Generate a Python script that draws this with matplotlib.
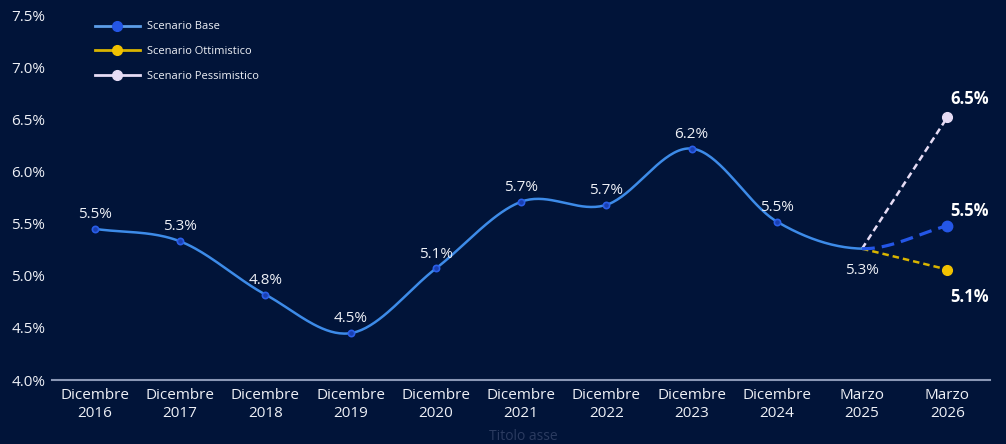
import numpy as np
import matplotlib
matplotlib.use("Agg")
import matplotlib.pyplot as plt
from matplotlib.lines import Line2D

plt.rcParams['font.family'] = ['Open Sans', 'DejaVu Sans']

# ---- data ----
categories = ["Dicembre\n2016", "Dicembre\n2017", "Dicembre\n2018", "Dicembre\n2019",
              "Dicembre\n2020", "Dicembre\n2021", "Dicembre\n2022", "Dicembre\n2023",
              "Dicembre\n2024", "Marzo\n2025", "Marzo\n2026"]
base_values = [5.45, 5.33, 4.82, 4.45, 5.07, 5.71, 5.68, 6.22, 5.52, 5.26, 5.48]
ottimistico_2026 = 5.06
pessimistico_2026 = 6.52
y_ticks = [4.0, 4.5, 5.0, 5.5, 6.0, 6.5, 7.0, 7.5]
series_names = ["Scenario Base", "Scenario Ottimistico", "Scenario Pessimistico"]

BG = "#011439"
C_BASE_LINE = "#3d8be8"
C_BASE_DOT = "#2456e6"
C_OTT = "#f2c200"
C_PESS = "#e6dcf5"
TXT = "#eef0f6"

fig = plt.figure(figsize=(10.06, 4.44), dpi=100, facecolor=BG)
ax = fig.add_axes([0.052, 0.144, 0.932, 0.822], facecolor=BG)

x = np.arange(len(categories))
y = np.array(base_values)

# cardinal (Catmull-Rom) spline for the smoothed line
def tangents(vals):
    m = np.zeros_like(vals)
    m[1:-1] = (vals[2:] - vals[:-2]) / 2
    m[0] = vals[1] - vals[0]
    m[-1] = vals[-1] - vals[-2]
    return m

def segment(i, vals, m, n=40):
    t = np.linspace(0, 1, n)
    h00 = 2*t**3 - 3*t**2 + 1
    h10 = t**3 - 2*t**2 + t
    h01 = -2*t**3 + 3*t**2
    h11 = t**3 - t**2
    yy = h00*vals[i] + h10*m[i] + h01*vals[i+1] + h11*m[i+1]
    return i + t, yy

m = tangents(y)
xs, ys = [], []
for i in range(len(y) - 2):
    sx, sy = segment(i, y, m)
    xs.append(sx); ys.append(sy)
xs = np.concatenate(xs); ys = np.concatenate(ys)
ax.plot(xs, ys, color=C_BASE_LINE, lw=1.8, solid_capstyle='round', zorder=3)

dx, dy = segment(len(y) - 2, y, m)
ax.plot(dx, dy, color=C_BASE_DOT, lw=2.3, dashes=(4, 2.2), zorder=3)

ax.plot([x[-2], x[-1]], [y[-2], ottimistico_2026], color="#d9b400", lw=1.8,
        dashes=(2.6, 1.6), zorder=2)
ax.plot([x[-2], x[-1]], [y[-2], pessimistico_2026], color=C_PESS, lw=1.8,
        dashes=(2.6, 1.6), zorder=2)

# small markers on historical points
ax.plot(x[:-2], y[:-2], 'o', ms=4.5, mfc="#1a3fb0", mec="#2a5ee8", mew=1.2,
        ls='none', zorder=4)

# 2026 markers
ax.plot(x[-1], y[-1], 'o', ms=7.5, color=C_BASE_DOT, zorder=5)
ax.plot(x[-1], ottimistico_2026, 'o', ms=7, color=C_OTT, zorder=5)
ax.plot(x[-1], pessimistico_2026, 'o', ms=7, color=C_PESS, zorder=5)

# data labels
for i in range(len(y) - 1):
    lbl = f"{y[i]:.1f}%"
    if i == len(y) - 2:
        ax.annotate(lbl, (x[i], y[i]), xytext=(0, -10), textcoords='offset points',
                    ha='center', va='top', color=TXT, fontsize=11)
    else:
        ax.annotate(lbl, (x[i], y[i]), xytext=(0, 5), textcoords='offset points',
                    ha='center', va='bottom', color=TXT, fontsize=11)

ax.annotate(f"{pessimistico_2026:.1f}%", (x[-1], pessimistico_2026), xytext=(16, 7),
            textcoords='offset points', ha='center', va='bottom', color='white',
            fontsize=12, fontweight='bold')
ax.annotate(f"{y[-1]:.1f}%", (x[-1], y[-1]), xytext=(16, 4),
            textcoords='offset points', ha='center', va='bottom', color='white',
            fontsize=12, fontweight='bold')
ax.annotate(f"{ottimistico_2026:.1f}%", (x[-1], ottimistico_2026), xytext=(16, -13),
            textcoords='offset points', ha='center', va='top', color='white',
            fontsize=12, fontweight='bold')

ax.set_xlim(-0.5, 10.5)
ax.set_ylim(4.0, 7.5)
ax.set_xticks(x)
ax.set_xticklabels(categories, color=TXT, fontsize=11, linespacing=1.25)
ax.set_yticks(y_ticks)
ax.set_yticklabels([f"{v:.1f}%" for v in y_ticks], color=TXT, fontsize=11)
ax.tick_params(axis='both', length=0)
ax.tick_params(axis='x', pad=6)
ax.tick_params(axis='y', pad=5)
for s in ['top', 'right', 'left']:
    ax.spines[s].set_visible(False)
ax.spines['bottom'].set_color("#8a97b5")
ax.spines['bottom'].set_linewidth(1.5)

# legend
handles = [
    Line2D([0], [0], color="#5c9de8", lw=2, marker='o', ms=7, mfc=C_BASE_DOT, mec=C_BASE_DOT),
    Line2D([0], [0], color="#d9b400", lw=2, marker='o', ms=7, mfc=C_OTT, mec=C_OTT),
    Line2D([0], [0], color=C_PESS, lw=2, marker='o', ms=7, mfc=C_PESS, mec=C_PESS),
]
leg = ax.legend(handles, series_names, loc='upper left', bbox_to_anchor=(0.035, 1.01),
                frameon=False, fontsize=8, labelcolor=TXT, handlelength=4.0,
                handletextpad=0.7, labelspacing=1.25)

fig.text(0.52, 0.0, "Titolo asse", color="#2b3b60", fontsize=10, ha='center', va='bottom')

fig.savefig("out.png", dpi=100, facecolor=BG)
